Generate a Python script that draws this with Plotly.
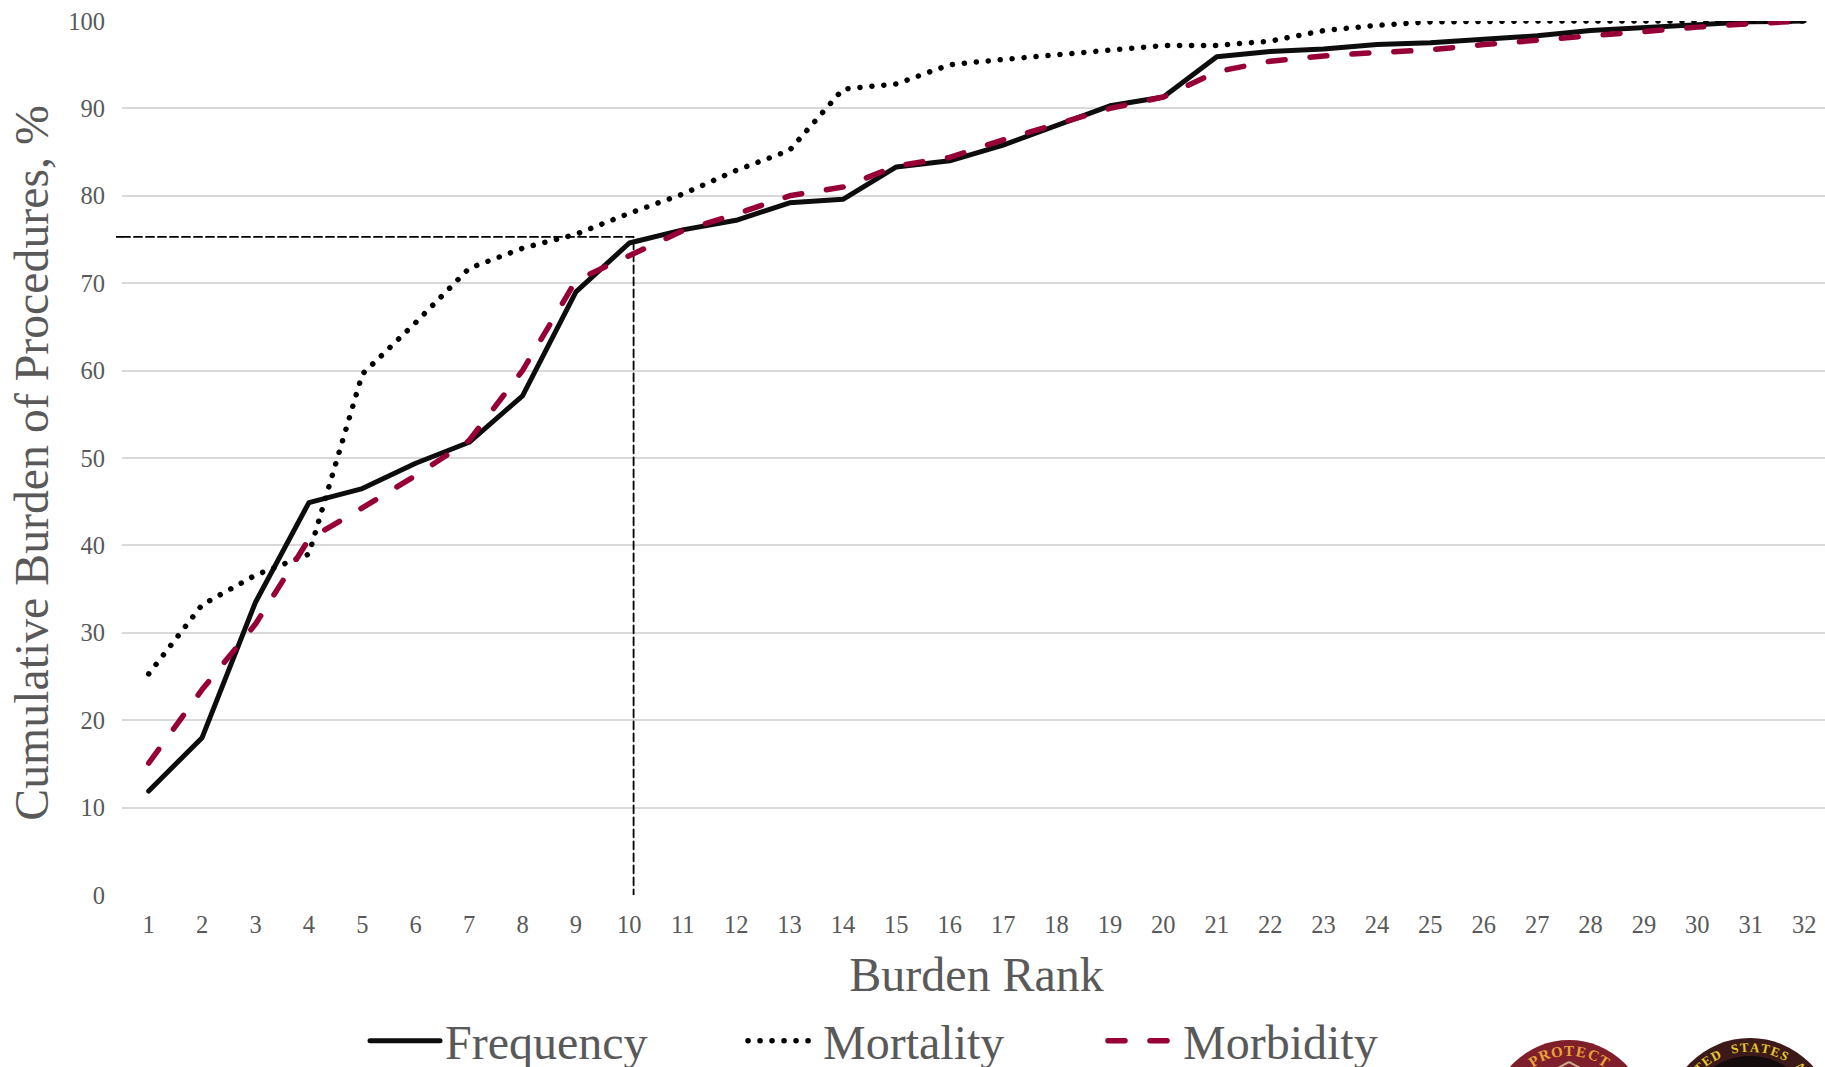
import math
import plotly.graph_objects as go

ranks = list(range(1, 33))
frequency = [11.9, 18.0, 33.5, 44.9, 46.5, 49.4, 51.8, 57.1, 69.0, 74.6, 76.1, 77.2, 79.2, 79.6, 83.3, 84.0,
             85.8, 88.0, 90.3, 91.3, 95.9, 96.5, 96.8, 97.3, 97.5, 97.9, 98.3, 98.9, 99.2, 99.6, 99.9, 100.0]
mortality = [25.3, 33.2, 36.6, 39.0, 59.6, 65.5, 71.7, 74.0, 75.6, 78.0, 80.2, 82.9, 85.2, 92.2, 92.8, 95.0,
             95.6, 96.1, 96.7, 97.2, 97.2, 97.7, 98.9, 99.5, 99.9, 100.0, 100.0, 100.0, 100.0, 100.0, 100.0, 100.0]
morbidity = [15.1, 23.5, 31.0, 40.7, 44.3, 48.0, 52.0, 60.0, 70.3, 73.2, 76.0, 77.9, 80.0, 81.0, 83.4, 84.4,
             86.4, 88.2, 90.0, 91.3, 94.2, 95.4, 96.0, 96.4, 96.7, 97.3, 97.8, 98.3, 98.9, 99.3, 99.7, 100.0]
guide_x = [0.5, 10.08, 10.08]
guide_y = [75.3, 75.3, 0]

FONT = "Liberation Serif"
GREY = "#595959"
W, H = 1825, 1067
L, T, B = 122, 21, 172
PW, PH = W - L, H - T - B


def px(x):
    return (x - L) / PW


def py(y):
    return (H - B - y) / PH


fig = go.Figure()
fig.add_trace(go.Scatter(x=guide_x, y=guide_y, mode="lines", showlegend=False, cliponaxis=False,
                         line=dict(color="black", width=1.8, dash="8px,4px")))
fig.add_trace(go.Scatter(x=ranks, y=frequency, mode="lines", name="Frequency", cliponaxis=False, legend="legend",
                         line=dict(color="#0d0d0d", width=5)))
fig.add_trace(go.Scatter(x=ranks, y=mortality, mode="lines", name="Mortality", cliponaxis=False, legend="legend2",
                         line=dict(color="black", width=5.5, dash="0.1px,11.9px")))
fig.add_trace(go.Scatter(x=ranks, y=morbidity, mode="lines", name="Morbidity", cliponaxis=False, legend="legend3",
                         line=dict(color="#960036", width=5.5, dash="17px,25px")))


def circle(cx, cy, r, fill):
    return dict(type="circle", xref="paper", yref="paper", x0=px(cx - r), x1=px(cx + r),
                y0=py(cy + r), y1=py(cy - r), fillcolor=fill, line=dict(width=0), layer="above")


def arc_text(text, cx, cy, r, step, color, size):
    out = []
    n = len(text)
    for i, ch in enumerate(text):
        a = (i - (n - 1) / 2) * step
        x = cx + r * math.sin(math.radians(a))
        y = cy - r * math.cos(math.radians(a))
        out.append(dict(text=f"<b>{ch}</b>", xref="paper", yref="paper", x=px(x), y=py(y), showarrow=False,
                        textangle=a, font=dict(family="Liberation Serif", size=size, color=color),
                        xanchor="center", yanchor="middle"))
    return out


guide_y_px = H - B - PH * guide_y[0] / 100
shapes = [
    dict(type="line", xref="paper", yref="paper", x0=px(116), x1=px(123), y0=py(guide_y_px), y1=py(guide_y_px),
         line=dict(color="black", width=1.8), layer="above"),
    circle(1569, 1118, 78, "#7e1f2b"),
    dict(type="line", xref="paper", yref="paper", x0=px(1569), x1=px(1545), y0=py(1062), y1=py(1075),
         line=dict(color="#c9a98a", width=2), layer="above"),
    dict(type="line", xref="paper", yref="paper", x0=px(1569), x1=px(1593), y0=py(1062), y1=py(1075),
         line=dict(color="#c9a98a", width=2), layer="above"),
    circle(1750, 1122, 84, "#3d1a1a"),
    circle(1750, 1122, 66, "#140c0c"),
]
annotations = (arc_text("PROTECT", 1569, 1118, 67, 10.5, "#e9a23a", 15)
               + arc_text("UNITED STATES ARMY", 1750, 1122, 75, 7.8, "#e6cb2a", 13))


def legend_at(x):
    return dict(orientation="h", x=px(x), xanchor="left", y=py(1003), yanchor="top",
                font=dict(size=48, color=GREY), itemwidth=70, bgcolor="rgba(0,0,0,0)")


fig.update_layout(
    width=W, height=H, margin=dict(l=L, r=0, t=T, b=B, autoexpand=False),
    paper_bgcolor="white", plot_bgcolor="white",
    font=dict(family=FONT, color=GREY),
    shapes=shapes, annotations=annotations,
    xaxis=dict(range=[0.5, 32.39], tickmode="array", tickvals=ranks, ticktext=[str(r) for r in ranks],
               tickfont=dict(size=24.5, color=GREY), showgrid=False, zeroline=False, ticks="",
               ticklabelstandoff=12, automargin=False,
               title=dict(text="Burden Rank", font=dict(size=48, color=GREY), standoff=20)),
    yaxis=dict(range=[0, 100], tickmode="array", tickvals=list(range(0, 101, 10)),
               tickfont=dict(size=24.5, color=GREY), showgrid=True, gridcolor="#d9d9d9", gridwidth=1.5,
               zeroline=False, ticks="", ticklabelstandoff=16, automargin=False,
               title=dict(text="Cumulative Burden of Procedures, %", font=dict(size=47.8, color=GREY), standoff=19)),
    legend=legend_at(365),
    legend2=legend_at(743),
    legend3=legend_at(1103),
)

post = """
document.body.style.margin='0';
document.querySelectorAll('.scatterlayer .js-line, .infolayer .js-line').forEach(function(p){
  p.style.strokeLinecap='round'; p.style.strokeLinejoin='round';
});
[['.ytitle','translate(5,5) '],['.xtitle','translate(3,0) ']].forEach(function(a){
  var t=document.querySelector(a[0]);
  if(t){t.setAttribute('transform',a[1]+(t.getAttribute('transform')||''));}
});
"""
fig.write_html("out.html", post_script=post, config=dict(displayModeBar=False))
